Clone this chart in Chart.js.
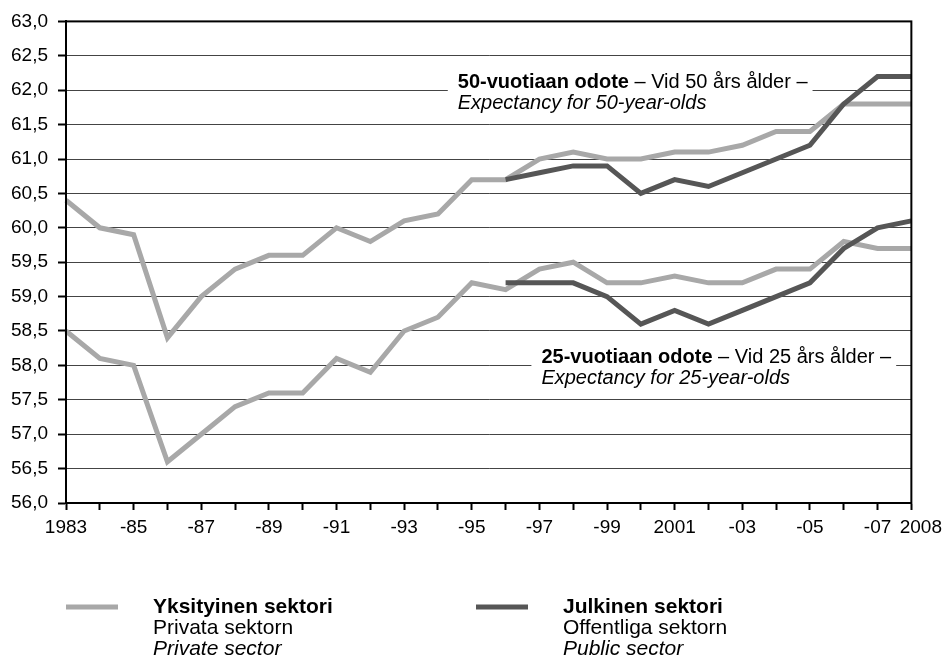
<!DOCTYPE html>
<html>
<head>
<meta charset="utf-8">
<script src="https://cdn.jsdelivr.net/npm/chart.js@4/dist/chart.umd.min.js"></script>
<style>
  html, body { margin: 0; padding: 0; background: #fff; }
  #wrap { width: 948px; height: 661px; position: relative; }
</style>
</head>
<body>
<div id="wrap"><canvas id="chart"></canvas></div>
<script>
// Elinajanodote eläkkeellä — yksityinen vs julkinen sektori, 1983–2008

var years = ['1983', '1984', '1985', '1986', '1987', '1988', '1989', '1990', '1991', '1992',
  '1993', '1994', '1995', '1996', '1997', '1998', '1999', '2000', '2001', '2002',
  '2003', '2004', '2005', '2006', '2007', '2008'];

// vain joka toinen vuosi näkyy akselilla
var tickLabels = ['1983', '', '-85', '', '-87', '', '-89', '', '-91', '', '-93', '', '-95', '',
  '-97', '', '-99', '', '2001', '', '-03', '', '-05', '', '-07', '2008'];

var yTicks = [56.0, 56.5, 57.0, 57.5, 58.0, 58.5, 59.0, 59.5, 60.0, 60.5, 61.0, 61.5, 62.0, 62.5, 63.0];

// 50-vuotiaat
var private50 = [60.4, 60.0, 59.9, 58.4, 59.0, 59.4, 59.6, 59.6, 60.0, 59.8,
  60.1, 60.2, 60.7, 60.7, 61.0, 61.1, 61.0, 61.0, 61.1, 61.1,
  61.2, 61.4, 61.4, 61.8, 61.8, 61.8];
var public50 = [null, null, null, null, null, null, null, null, null, null,
  null, null, null, 60.7, 60.8, 60.9, 60.9, 60.5, 60.7, 60.6,
  60.8, 61.0, 61.2, 61.8, 62.2, 62.2];

// 25-vuotiaat
var private25 = [58.5, 58.1, 58.0, 56.6, 57.0, 57.4, 57.6, 57.6, 58.1, 57.9,
  58.5, 58.7, 59.2, 59.1, 59.4, 59.5, 59.2, 59.2, 59.3, 59.2,
  59.2, 59.4, 59.4, 59.8, 59.7, 59.7];
var public25 = [null, null, null, null, null, null, null, null, null, null,
  null, null, null, 59.2, 59.2, 59.2, 59.0, 58.6, 58.8, 58.6,
  58.8, 59.0, 59.2, 59.7, 60.0, 60.1];

var LIGHT = '#a8a8a8';
var DARK = '#565656';
var FONT = "'Liberation Sans', Arial, sans-serif";

function lineSet(label, data, color, order) {
  return {
    label: label,
    data: data,
    borderColor: color,
    backgroundColor: color,
    borderWidth: 5,
    pointRadius: 0,
    tension: 0,
    spanGaps: false,
    order: order,
    borderJoinStyle: 'miter',
    borderCapStyle: 'butt'
  };
}

// valkoinen laatikko + kaksirivinen selite viivan päälle
function drawNote(ctx, x0, gy, bold, normal, italic) {
  ctx.save();
  ctx.font = 'bold 20px ' + FONT;
  var wb = ctx.measureText(bold).width;
  ctx.font = '20px ' + FONT;
  var wn = ctx.measureText(normal).width;
  ctx.fillStyle = '#fff';
  ctx.fillRect(x0 - 10, gy - 18, wb + wn + 15, 44);
  ctx.fillStyle = '#000';
  ctx.textBaseline = 'alphabetic';
  ctx.font = 'bold 20px ' + FONT;
  ctx.fillText(bold, x0, gy - 2);
  ctx.font = '20px ' + FONT;
  ctx.fillText(normal, x0 + wb, gy - 2);
  ctx.font = 'italic 20px ' + FONT;
  ctx.fillText(italic, x0, gy + 19);
  ctx.restore();
}

function drawLegendItem(ctx, lx, color, lines) {
  var y0 = 607;
  ctx.save();
  ctx.strokeStyle = color;
  ctx.lineWidth = 5;
  ctx.beginPath();
  ctx.moveTo(lx, y0);
  ctx.lineTo(lx + 52, y0);
  ctx.stroke();
  ctx.fillStyle = '#000';
  ctx.font = 'bold 21px ' + FONT;
  ctx.fillText(lines[0], lx + 87, 613);
  ctx.font = '21px ' + FONT;
  ctx.fillText(lines[1], lx + 87, 634);
  ctx.font = 'italic 21px ' + FONT;
  ctx.fillText(lines[2], lx + 87, 655);
  ctx.restore();
}

var notesPlugin = {
  id: 'notes',
  beforeDatasetsDraw: function (chart) {
    var ctx = chart.ctx, xs = chart.scales.x, ys = chart.scales.y;
    drawNote(ctx, xs.getPixelForValue(12) - 14, ys.getPixelForValue(62.0),
      '50-vuotiaan odote', ' – Vid 50 års ålder –', 'Expectancy for 50-year-olds');
    drawNote(ctx, xs.getPixelForValue(14) + 2, ys.getPixelForValue(58.0),
      '25-vuotiaan odote', ' – Vid 25 års ålder –', 'Expectancy for 25-year-olds');
  },
  afterDraw: function (chart) {
    var ctx = chart.ctx, a = chart.chartArea;
    ctx.save();
    ctx.strokeStyle = '#000';
    ctx.lineWidth = 2;
    ctx.strokeRect(a.left, a.top, a.right - a.left, a.bottom - a.top);
    ctx.restore();
    drawLegendItem(ctx, 66, LIGHT, ['Yksityinen sektori', 'Privata sektorn', 'Private sector']);
    drawLegendItem(ctx, 476, DARK, ['Julkinen sektori', 'Offentliga sektorn', 'Public sector']);
  }
};

new Chart(document.getElementById('chart'), {
  type: 'line',
  data: {
    labels: years,
    datasets: [
      lineSet('Julkinen 50', public50, DARK, 1),
      lineSet('Julkinen 25', public25, DARK, 1),
      lineSet('Yksityinen 50', private50, LIGHT, 2),
      lineSet('Yksityinen 25', private25, LIGHT, 2)
    ]
  },
  options: {
    responsive: true,
    maintainAspectRatio: false,
    animation: false,
    layout: { padding: { left: 0, right: 36, top: 19, bottom: 0 } },
    plugins: { legend: { display: false }, tooltip: { enabled: false } },
    scales: {
      x: {
        offset: false,
        grid: { drawOnChartArea: false, drawTicks: true, tickLength: 7, tickColor: '#000', tickWidth: 2 },
        border: { display: true, color: '#000', width: 2 },
        ticks: {
          autoSkip: false, maxRotation: 0, minRotation: 0, padding: 6,
          color: '#000', font: { family: FONT, size: 19 },
          callback: function (v, i) {
            // viimeinen vuosi hieman oikealle, kuten alkuperäisessä
            return i === tickLabels.length - 1 ? '\u2002\u2002' + tickLabels[i] : tickLabels[i];
          }
        },
        afterFit: function (s) { s.height = 158; }
      },
      y: {
        min: yTicks[0],
        max: yTicks[yTicks.length - 1],
        grid: { color: '#444', lineWidth: 1, tickLength: 8, tickColor: '#000', tickWidth: 2 },
        border: { display: true, color: '#000', width: 2 },
        ticks: {
          stepSize: 0.5, padding: 10, color: '#000', font: { family: FONT, size: 19 },
          callback: function (v) { return v.toFixed(1).replace('.', ','); }
        },
        afterFit: function (s) { s.width = 66; }
      }
    }
  },
  plugins: [notesPlugin]
});
</script>
</body>
</html>
